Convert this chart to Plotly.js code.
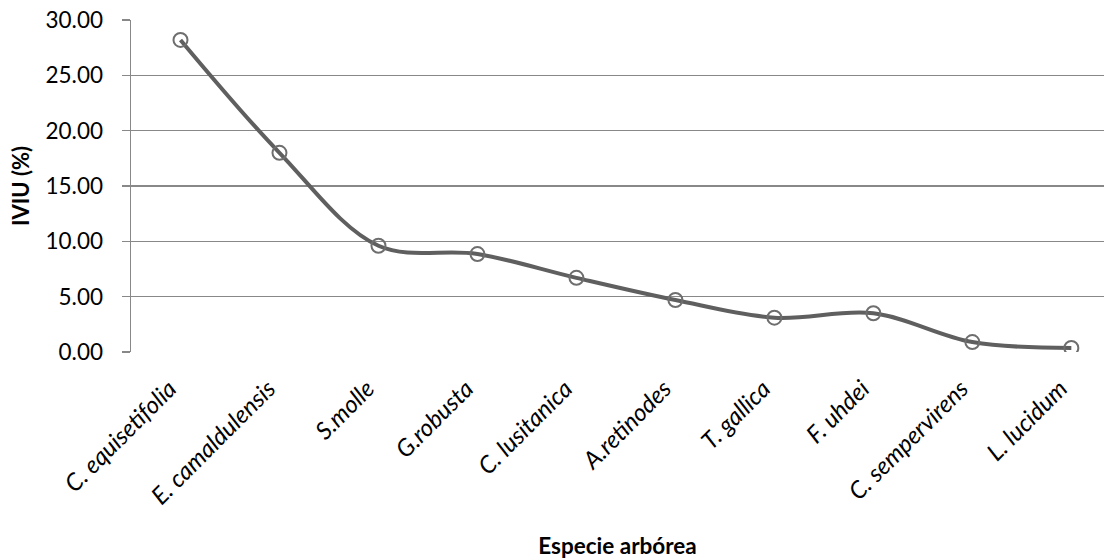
<!DOCTYPE html>
<html>
<head>
<meta charset="utf-8">
<script src="https://cdn.plot.ly/plotly-3.0.1.min.js"></script>
<style>html,body{margin:0;padding:0;background:#fff;}#chart{width:1114px;height:559px;}</style>
</head>
<body>
<div id="chart"></div>
<script>
var species = ["C. equisetifolia", "E. camaldulensis", "S.molle", "G.robusta", "C. lusitanica", "A.retinodes", "T. gallica", "F. uhdei", "C. sempervirens", "L. lucidum"];
var iviu = [28.2, 18.0, 9.6, 8.85, 6.7, 4.7, 3.1, 3.5, 0.9, 0.36];
var yTicks = [0, 5, 10, 15, 20, 25, 30];
var yTickLabels = ["0.00", "5.00", "10.00", "15.00", "20.00", "25.00", "30.00"];

var trace = {
  x: species,
  y: iviu,
  type: "scatter",
  mode: "lines+markers",
  line: {color: "#5f5f5f", width: 4, shape: "spline", smoothing: 1},
  marker: {symbol: "circle-open", size: 14, color: "#6e6e6e", line: {width: 2, color: "#6e6e6e"}},
  hoverinfo: "x+y"
};

var layout = {
  width: 1114, height: 559,
  margin: {l: 131, r: 10, t: 20, b: 207},
  paper_bgcolor: "#fff", plot_bgcolor: "#fff",
  showlegend: false,
  font: {family: "Lato, 'Open Sans', sans-serif", color: "#000"},
  xaxis: {
    type: "category",
    range: [-0.5, 9.33],
    tickangle: -45,
    tickfont: {size: 24, style: "italic", color: "#000"},
    showgrid: false,
    showline: false,
    ticks: "",
    zeroline: false,
    automargin: false,
    ticklabelstandoff: 17,
    ticklabelshift: -11,
    title: {text: "<b>Especie arbórea</b>", font: {size: 22.5, color: "#000"}, standoff: 30}
  },
  yaxis: {
    range: [0, 30],
    tickvals: yTicks,
    ticktext: yTickLabels,
    tickfont: {size: 22.5, color: "#000"},
    showgrid: true,
    gridcolor: "#888888",
    gridwidth: 1.5,
    showline: true,
    linecolor: "#888888",
    linewidth: 1.5,
    ticks: "outside",
    ticklen: 8,
    tickcolor: "#888888",
    tickwidth: 1.5,
    zeroline: false,
    automargin: false,
    ticklabelstandoff: 14,
    title: {text: "<b>IVIU (%)</b>", font: {size: 22, color: "#000"}, standoff: 10}
  }
};

Plotly.newPlot("chart", [trace], layout, {displayModeBar: false, staticPlot: true});
</script>
</body>
</html>
